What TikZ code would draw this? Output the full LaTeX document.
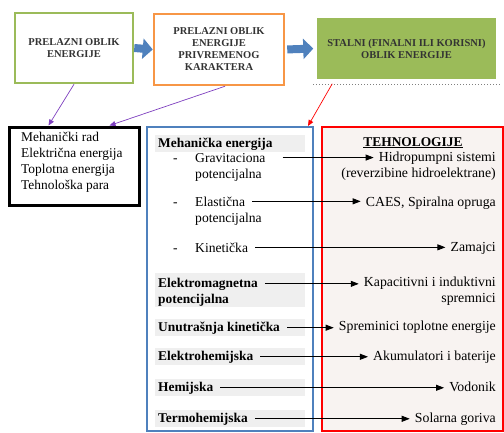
\documentclass[tikz,border=0pt]{standalone}
\usepackage{fontspec}
\setmainfont{Liberation Serif}
\usetikzlibrary{arrows.meta, positioning}

\definecolor{zelena}{HTML}{9BBB59}
\definecolor{narandza}{HTML}{F79646}
\definecolor{plava}{HTML}{4F81BD}
\definecolor{ljubicasta}{HTML}{7E3FBF}
\definecolor{siva}{HTML}{EFEFEF}
\definecolor{roza}{HTML}{F8F3F1}
\definecolor{tamna}{HTML}{333333}

\tikzset{
  kutija/.style={draw, minimum width=#1, inner sep=0pt},
  naslov/.style={font=\fontsize{10.5}{12}\selectfont\bfseries, align=center, text=tamna},
  lijevo/.style={font=\fontsize{13.6}{15}\selectfont, anchor=base west, inner xsep=1pt, inner ysep=0pt},
  jaka/.style={lijevo, font=\fontsize{13.4}{15}\selectfont\bfseries},
  desno/.style={font=\fontsize{13.8}{15}\selectfont, anchor=base east, inner xsep=1pt, inner ysep=0pt},
  veza/.style={draw, line width=0.8pt, -{Triangle[length=8pt,width=6pt]}},
  tanka/.style={draw, line width=0.7pt, -{Triangle[length=6pt,width=5pt]}},
  blok/.style={draw=plava, line width=8pt, -{Triangle[length=10pt,width=20pt]}}
}

\begin{document}
\begin{tikzpicture}[x=1pt, y=-1pt]
\useasboundingbox (0,0) rectangle (504,432);

% gornji red
\node[kutija=118pt, draw=zelena, line width=2.5pt, minimum height=70pt, naslov] (prel) at (74,48)
  {PRELAZNI OBLIK\\ENERGIJE};
\node[kutija=130pt, draw=narandza, line width=2.5pt, minimum height=71pt, naslov] (privr) at (219,49.5)
  {PRELAZNI OBLIK\\ENERGIJE\\PRIVREMENOG\\KARAKTERA};
\draw[gray, dotted, line width=1pt] (313,84) -- (500,84);
\node[kutija=181pt, fill=zelena, draw=white, line width=1.5pt, minimum height=63pt, naslov] (stal) at (406.5,48.5)
  {STALNI (FINALNI ILI KORISNI)\\OBLIK ENERGIJE};

\draw[blok] (prel.east) -- (privr.west);
\draw[blok, shorten <=2pt, shorten >=2pt] (privr.east) -- (stal.west);

% donji red
\node[kutija=130pt, line width=3pt, minimum height=78pt] (oblici) at (74,166) {};
\node[font=\fontsize{13.4}{16}\selectfont, align=left, anchor=north west, inner sep=0pt] (oblicitekst) at (21,132)
  {Mehanički rad\\Električna energija\\Toplotna energija\\Tehnološka para};

\node[kutija=166pt, draw=plava, line width=2pt, minimum height=304pt] (vrste) at (230,279) {};
\node[kutija=181pt, draw=red, fill=roza, line width=2.5pt, minimum height=304pt] (tehn) at (412.5,279) {};

\draw[tanka, ljubicasta] (prel.south) -- ([xshift=41pt]oblici.north west);
\draw[tanka, ljubicasta] ([xshift=6pt]privr.south) -- ([xshift=-31pt]oblici.north east);
\draw[tanka, red] ([xshift=17pt, yshift=-3pt]stal.south west) -- ([xshift=-6pt]vrste.north east);

% sive trake
\foreach \a/\b in {135/152, 273/307, 319/336, 348/365, 379/396, 410/427}
  \fill[siva] (155,\a) rectangle (305,\b);

% vrste energije
\node[jaka] (meh) at (157,147) {Mehanička energija};
\node[lijevo] (crta1) at (172,162) {-};
\node[lijevo] (grav) at (194,162) {Gravitaciona};
\node[lijevo] (grav2) at (194,178) {potencijalna};
\node[lijevo] (crta2) at (172,206) {-};
\node[lijevo] (elas) at (194,206) {Elastična};
\node[lijevo] (elas2) at (194,222) {potencijalna};
\node[lijevo] (crta3) at (172,252) {-};
\node[lijevo] (kin) at (194,252) {Kinetička};
\node[jaka] (elmag) at (157,287) {Elektromagnetna};
\node[jaka] (elmag2) at (157,303) {potencijalna};
\node[jaka] (unut) at (157,331) {Unutrašnja kinetička};
\node[jaka] (elhem) at (157,360) {Elektrohemijska};
\node[jaka] (hem) at (157,391) {Hemijska};
\node[jaka] (trhem) at (157,422) {Termohemijska};

% tehnologije
\node[font=\fontsize{13.4}{15}\selectfont\bfseries, anchor=base] (tehnnaslov) at (413,146) {\underline{TEHNOLOGIJE}};
\node[desno] (hidro) at (497,161) {Hidropumpni sistemi};
\node[desno] (hidro2) at (497,177) {(reverzibine hidroelektrane)};
\node[desno] (caes) at (497,206) {CAES, Spiralna opruga};
\node[desno] (zam) at (497,251) {Zamajci};
\node[desno] (kap) at (497,286) {Kapacitivni i induktivni};
\node[desno] (kap2) at (497,302) {spremnici};
\node[desno] (sprem) at (497,330) {Spreminici toplotne energije};
\node[desno] (aku) at (497,360) {Akumulatori i baterije};
\node[desno] (vod) at (497,391) {Vodonik};
\node[desno] (sol) at (497,422) {Solarna goriva};

% veze
\draw[veza, shorten <=16pt, shorten >=4pt] (grav.east) -- (grav.east -| hidro.west);
\draw[veza, shorten <=6pt, shorten >=4pt] (elas.east) -- (elas.east -| caes.west);
\draw[veza, shorten <=6pt, shorten >=4pt] (kin.east) -- (kin.east -| zam.west);
\draw[veza, shorten <=6pt, shorten >=4pt] (elmag.east) -- (elmag.east -| kap.west);
\draw[veza, shorten <=6pt, shorten >=4pt] (unut.east) -- (unut.east -| sprem.west);
\draw[veza, shorten <=6pt, shorten >=4pt] (elhem.east) -- (elhem.east -| aku.west);
\draw[veza, shorten <=6pt, shorten >=4pt] (hem.east) -- (hem.east -| vod.west);
\draw[veza, shorten <=6pt, shorten >=4pt] (trhem.east) -- (trhem.east -| sol.west);
\end{tikzpicture}
\end{document}
